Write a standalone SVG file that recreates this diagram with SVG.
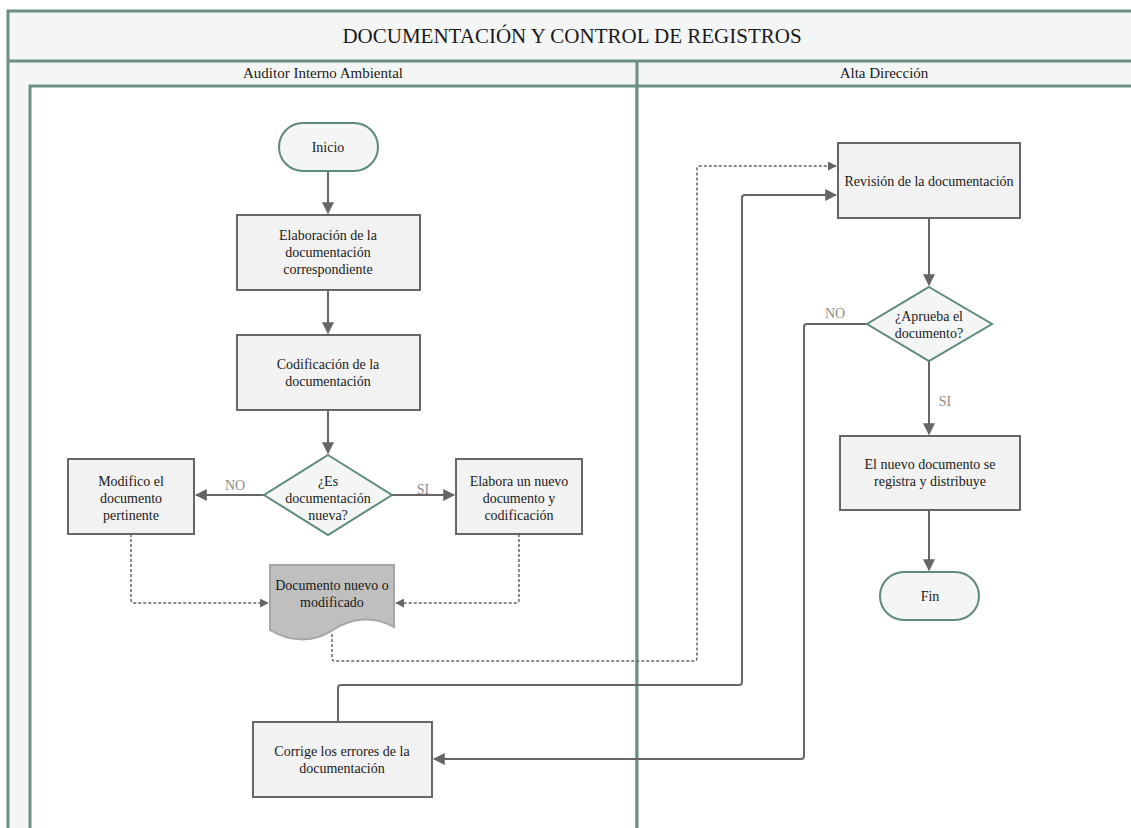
<svg xmlns="http://www.w3.org/2000/svg" width="1131" height="828" viewBox="0 0 1131 828">
  <defs>
    <marker id="arrow" viewBox="0 0 10 10" refX="9" refY="5" markerWidth="6" markerHeight="6" orient="auto" markerUnits="strokeWidth">
      <path d="M0,0 L10,5 L0,10 Z" fill="#666666"/>
    </marker>
    <style>
      .frame { fill: #f4f6f5; stroke: #6a8f86; stroke-width: 3; }
      .lane { fill: #ffffff; stroke: #6a8f86; stroke-width: 3; }
      .proc { fill: #f2f2f2; stroke: #666666; stroke-width: 2; }
      .term { fill: #f3f6f5; stroke: #5e8a7e; stroke-width: 2; }
      .doc { fill: #bfbfbf; stroke: #a6a6a6; stroke-width: 2; }
      .t { font-family: "Liberation Serif", "Times New Roman", serif; font-size: 14px; fill: #1a1a1a; text-anchor: middle; }
      .title { font-family: "Liberation Serif", "Times New Roman", serif; font-size: 21px; fill: #1a1a1a; text-anchor: middle; }
      .hdr { font-family: "Liberation Serif", "Times New Roman", serif; font-size: 15px; fill: #1a1a1a; text-anchor: middle; }
      .lbl { font-family: "Liberation Serif", "Times New Roman", serif; font-size: 14px; fill: #8c8c8c; text-anchor: middle; }
      .c { fill: none; stroke: #666666; stroke-width: 2; stroke-linejoin: round; }
      .d { fill: none; stroke: #666666; stroke-width: 1.5; stroke-dasharray: 3 2; stroke-linejoin: round; }
    </style>
  </defs>

  <!-- pool frame with title band and two swimlanes -->
  <g id="pool">
    <rect class="frame" x="8" y="11" width="1130" height="830"/>
    <rect class="lane" x="30" y="86" width="607" height="760"/>
    <rect class="lane" x="637" y="86" width="500" height="760"/>
    <line x1="8" y1="61" x2="1138" y2="61" stroke="#6a8f86" stroke-width="3"/>
    <line x1="637" y1="61" x2="637" y2="86" stroke="#6a8f86" stroke-width="3"/>
    <text class="title" x="572" y="43">DOCUMENTACIÓN Y CONTROL DE REGISTROS</text>
    <text class="hdr" x="323" y="78">Auditor Interno Ambiental</text>
    <text class="hdr" x="884" y="78">Alta Dirección</text>
  </g>

  <!-- connectors -->
  <g id="connectors">
    <path class="c" d="M328,171 V213" marker-end="url(#arrow)"/>
    <path class="c" d="M328,290 V333" marker-end="url(#arrow)"/>
    <path class="c" d="M328,410 V453" marker-end="url(#arrow)"/>
    <path class="c" d="M264,495 H196" marker-end="url(#arrow)"/>
    <path class="c" d="M392,495 H454" marker-end="url(#arrow)"/>
    <path class="d" d="M131,534 V600 Q131,603 134,603 H268" marker-end="url(#arrow)"/>
    <path class="d" d="M519,534 V600 Q519,603 516,603 H396" marker-end="url(#arrow)"/>
    <path class="d" d="M332,634 V658 Q332,661 335,661 H694 Q697,661 697,658 V169 Q697,166 700,166 H836" marker-end="url(#arrow)"/>
    <path class="c" d="M338,722 V688 Q338,685 341,685 H739 Q742,685 742,682 V198 Q742,195 745,195 H836" marker-end="url(#arrow)"/>
    <path class="c" d="M929,218 V285" marker-end="url(#arrow)"/>
    <path class="c" d="M867,324 H807 Q804,324 804,327 V756 Q804,759 801,759 H434" marker-end="url(#arrow)"/>
    <path class="c" d="M929,361 V434" marker-end="url(#arrow)"/>
    <path class="c" d="M929,510 V570" marker-end="url(#arrow)"/>
    <text class="lbl" x="235" y="490">NO</text>
    <text class="lbl" x="423" y="494">SI</text>
    <text class="lbl" x="835" y="318">NO</text>
    <text class="lbl" x="945" y="406">SI</text>
  </g>

  <g id="inicio">
    <rect class="term" x="279" y="123" width="99" height="48" rx="24"/>
    <text class="t" x="328" y="152">Inicio</text>
  </g>

  <g id="elaboracion">
    <rect class="proc" x="237" y="215" width="183" height="75"/>
    <text class="t" x="328" y="240">Elaboración de la</text>
    <text class="t" x="328" y="257">documentación</text>
    <text class="t" x="328" y="274">correspondiente</text>
  </g>

  <g id="codificacion">
    <rect class="proc" x="237" y="335" width="183" height="75"/>
    <text class="t" x="328" y="369">Codificación de la</text>
    <text class="t" x="328" y="386">documentación</text>
  </g>

  <g id="es-nueva">
    <polygon class="term" points="328,455 392,495 328,535 264,495"/>
    <text class="t" x="328" y="486">¿Es</text>
    <text class="t" x="328" y="503">documentación</text>
    <text class="t" x="328" y="520">nueva?</text>
  </g>

  <g id="modifico">
    <rect class="proc" x="68" y="459" width="126" height="75"/>
    <text class="t" x="131" y="486">Modifico el</text>
    <text class="t" x="131" y="503">documento</text>
    <text class="t" x="131" y="520">pertinente</text>
  </g>

  <g id="elabora-nuevo">
    <rect class="proc" x="456" y="459" width="126" height="75"/>
    <text class="t" x="519" y="486">Elabora un nuevo</text>
    <text class="t" x="519" y="503">documento y</text>
    <text class="t" x="519" y="520">codificación</text>
  </g>

  <g id="documento">
    <path class="doc" d="M270,565 H394 V627 C375,616 352,617 333,630 C312,644 288,641 270,630 Z"/>
    <text class="t" x="332" y="590">Documento nuevo o</text>
    <text class="t" x="332" y="607">modificado</text>
  </g>

  <g id="corrige">
    <rect class="proc" x="253" y="722" width="179" height="75"/>
    <text class="t" x="342" y="756">Corrige los errores de la</text>
    <text class="t" x="342" y="773">documentación</text>
  </g>

  <g id="revision">
    <rect class="proc" x="838" y="143" width="182" height="75"/>
    <text class="t" x="929" y="186">Revisión de la documentación</text>
  </g>

  <g id="aprueba">
    <polygon class="term" points="929,287 992,324 929,361 867,324"/>
    <text class="t" x="929" y="321">¿Aprueba el</text>
    <text class="t" x="929" y="338">documento?</text>
  </g>

  <g id="registra">
    <rect class="proc" x="840" y="436" width="180" height="74"/>
    <text class="t" x="930" y="469">El nuevo documento se</text>
    <text class="t" x="930" y="486">registra y distribuye</text>
  </g>

  <g id="fin">
    <rect class="term" x="880" y="572" width="99" height="48" rx="24"/>
    <text class="t" x="930" y="601">Fin</text>
  </g>
</svg>
